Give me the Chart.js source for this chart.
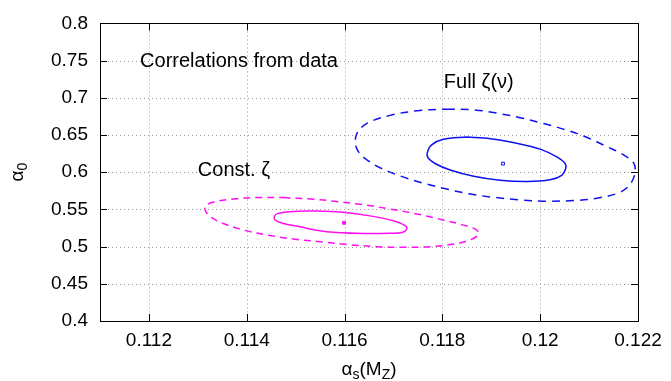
<!DOCTYPE html>
<html>
<head>
<meta charset="utf-8">
<script src="https://cdn.jsdelivr.net/npm/chart.js@4.4.1/dist/chart.umd.min.js"></script>
<style>
  body { margin: 0; background: #fff; }
  #wrap { width: 671px; height: 381px; }
</style>
</head>
<body>
<div id="wrap"><canvas id="chart"></canvas></div>
<script>
// axis ticks
const xTicks = [0.112, 0.114, 0.116, 0.118, 0.120, 0.122];
const yTicks = [0.40, 0.45, 0.50, 0.55, 0.60, 0.65, 0.70, 0.75, 0.80];

// contours, [alpha_s, alpha_0]; each starts on a flat stretch
const fullInner = [
  [0.11850, 0.6473], [0.11898, 0.6451], [0.11952, 0.6389], [0.12000, 0.6310],
  [0.12034, 0.6205], [0.12051, 0.6117], [0.12052, 0.6046], [0.12044, 0.5958],
  [0.12020, 0.5897], [0.11973, 0.5875], [0.11918, 0.5892], [0.11864, 0.5945],
  [0.11816, 0.6029], [0.11785, 0.6117], [0.11771, 0.6191], [0.11769, 0.6257],
  [0.11778, 0.6367], [0.11802, 0.6442]
];
const fullOuter = [
  [0.11809, 0.6847], [0.11864, 0.6838], [0.11911, 0.6794], [0.11959, 0.6733],
  [0.12007, 0.6654], [0.12054, 0.6566], [0.12095, 0.6469], [0.12136, 0.6345],
  [0.12170, 0.6235], [0.12191, 0.6125], [0.12194, 0.5993], [0.12184, 0.5839],
  [0.12163, 0.5729], [0.12116, 0.5650], [0.12068, 0.5619], [0.12013, 0.5611],
  [0.11959, 0.5628], [0.11904, 0.5663], [0.11857, 0.5707], [0.11809, 0.5773],
  [0.11761, 0.5853], [0.11714, 0.5949], [0.11673, 0.6059], [0.11645, 0.6169],
  [0.11628, 0.6279], [0.11622, 0.6398], [0.11626, 0.6530], [0.11645, 0.6654],
  [0.11693, 0.6764], [0.11754, 0.6830]
];
const constInner = [
  [0.11543, 0.5479], [0.11598, 0.5461], [0.11652, 0.5413], [0.11700, 0.5347],
  [0.11724, 0.5281], [0.11727, 0.5237], [0.11719, 0.5193], [0.11693, 0.5179],
  [0.11639, 0.5175], [0.11584, 0.5188], [0.11543, 0.5219], [0.11509, 0.5267],
  [0.11475, 0.5311], [0.11459, 0.5351], [0.11456, 0.5399], [0.11463, 0.5443],
  [0.11489, 0.5470]
];
const constOuter = [
  [0.11475, 0.5659], [0.11530, 0.5641], [0.11584, 0.5606], [0.11639, 0.5562],
  [0.11693, 0.5505], [0.11748, 0.5439], [0.11795, 0.5369], [0.11843, 0.5289],
  [0.11869, 0.5228], [0.11874, 0.5166], [0.11857, 0.5091], [0.11823, 0.5034],
  [0.11775, 0.4999], [0.11720, 0.4990], [0.11666, 0.4999], [0.11611, 0.5025],
  [0.11557, 0.5061], [0.11502, 0.5096], [0.11448, 0.5149], [0.11393, 0.5223],
  [0.11352, 0.5311], [0.11326, 0.5399], [0.11316, 0.5474], [0.11315, 0.5540],
  [0.11330, 0.5597], [0.11373, 0.5641], [0.11420, 0.5659]
];
const fullCenter = [0.11924, 0.6115];
const constCenter = [0.11599, 0.5320];

// text notes
const noteTexts = ['Correlations from data', 'Full ζ(ν)', 'Const. ζ'];
const noteX = [0.11182, 0.11803, 0.11300];
const noteY = [0.7485, 0.7208, 0.6020];

const FONT = '"Liberation Sans", Arial, Helvetica, sans-serif';
const BLUE = '#1010f0';
const MAGENTA = '#ff10ee';

const toPts = arr => {
  const pts = arr.map(p => ({ x: p[0], y: p[1] }));
  pts.push({ x: arr[0][0], y: arr[0][1] }); // close the loop
  return pts;
};

const framePlugin = {
  id: 'frame',
  beforeDatasetsDraw(chart) {
    const { ctx, chartArea: a, scales: { x, y } } = chart;
    ctx.save();
    ctx.strokeStyle = '#9a9a9a';
    ctx.lineWidth = 1;
    ctx.setLineDash([1, 3]);
    xTicks.forEach(v => {
      const px = Math.round(x.getPixelForValue(v)) + 0.5;
      ctx.beginPath(); ctx.moveTo(px, a.top); ctx.lineTo(px, a.bottom); ctx.stroke();
    });
    yTicks.forEach(v => {
      const py = Math.round(y.getPixelForValue(v)) + 0.5;
      ctx.beginPath(); ctx.moveTo(a.left, py); ctx.lineTo(a.right, py); ctx.stroke();
    });
    ctx.restore();
  },
  afterDatasetsDraw(chart) {
    const { ctx, chartArea: a, scales: { x, y } } = chart;
    const t = 7;
    ctx.save();
    ctx.strokeStyle = '#000';
    ctx.lineWidth = 1;
    ctx.beginPath();
    xTicks.forEach(v => {
      const px = Math.round(x.getPixelForValue(v)) + 0.5;
      ctx.moveTo(px, a.bottom); ctx.lineTo(px, a.bottom - t);
      ctx.moveTo(px, a.top); ctx.lineTo(px, a.top + t);
    });
    yTicks.forEach(v => {
      const py = Math.round(y.getPixelForValue(v)) + 0.5;
      ctx.moveTo(a.left, py); ctx.lineTo(a.left + t, py);
      ctx.moveTo(a.right, py); ctx.lineTo(a.right - t, py);
    });
    ctx.stroke();
    ctx.strokeRect(Math.round(a.left) + 0.5, Math.round(a.top) + 0.5,
      Math.round(a.right - a.left), Math.round(a.bottom - a.top));

    // notes
    ctx.fillStyle = '#000';
    ctx.font = '20px ' + FONT;
    ctx.textBaseline = 'middle';
    ctx.textAlign = 'left';
    noteTexts.forEach((s, i) => {
      ctx.fillText(s, x.getPixelForValue(noteX[i]), y.getPixelForValue(noteY[i]));
    });
    ctx.restore();
  },
  afterDraw(chart) {
    const { ctx, chartArea: a } = chart;
    const big = '19px ' + FONT, small = '14px ' + FONT;
    const drawParts = (parts, cx, cy) => {
      let w = 0;
      parts.forEach(p => { ctx.font = p[1] ? small : big; w += ctx.measureText(p[0]).width; });
      let xx = cx - w / 2;
      parts.forEach(p => {
        ctx.font = p[1] ? small : big;
        ctx.fillText(p[0], xx, cy + (p[1] ? 5 : 0));
        xx += ctx.measureText(p[0]).width;
      });
    };
    ctx.save();
    ctx.fillStyle = '#000';
    ctx.textBaseline = 'middle';
    ctx.textAlign = 'left';
    drawParts([['α', 0], ['s', 1], ['(M', 0], ['Z', 1], [')', 0]], (a.left + a.right) / 2, 370);
    ctx.translate(18, (a.top + a.bottom) / 2);
    ctx.rotate(-Math.PI / 2);
    drawParts([['α', 0], ['0', 1]], 0, 0);
    ctx.restore();
  }
};

new Chart(document.getElementById('chart'), {
  type: 'scatter',
  data: {
    datasets: [
      { data: toPts(fullInner), showLine: true, borderColor: BLUE, borderWidth: 1.5, pointRadius: 0, tension: 0.35 },
      { data: toPts(fullOuter), showLine: true, borderColor: BLUE, borderWidth: 1.5, borderDash: [8, 6], pointRadius: 0, tension: 0.35 },
      { data: toPts(constInner), showLine: true, borderColor: MAGENTA, borderWidth: 1.5, pointRadius: 0, tension: 0.35 },
      { data: toPts(constOuter), showLine: true, borderColor: MAGENTA, borderWidth: 1.5, borderDash: [7, 5], pointRadius: 0, tension: 0.35 },
      { data: [{ x: fullCenter[0], y: fullCenter[1] }], pointStyle: 'rect', pointRadius: 2, borderColor: BLUE, backgroundColor: '#fff', borderWidth: 1 },
      { data: [{ x: constCenter[0], y: constCenter[1] }], pointStyle: 'rect', pointRadius: 2, borderColor: MAGENTA, backgroundColor: MAGENTA, borderWidth: 1 }
    ]
  },
  options: {
    responsive: true,
    maintainAspectRatio: false,
    animation: false,
    layout: { padding: { top: 18, right: 33, left: 0, bottom: 0 } },
    plugins: { legend: { display: false }, tooltip: { enabled: false } },
    scales: {
      x: {
        type: 'linear', min: 0.111, max: 0.122,
        afterBuildTicks: s => { s.ticks = xTicks.map(v => ({ value: v })); },
        afterFit: s => { s.height = 60; },
        grid: { display: false, drawTicks: false },
        border: { display: false },
        ticks: { color: '#000', font: { family: FONT, size: 19 }, padding: 8, maxRotation: 0,
          callback: v => String(+v.toFixed(3)) }
      },
      y: {
        type: 'linear', min: 0.4, max: 0.8,
        afterBuildTicks: s => { s.ticks = yTicks.map(v => ({ value: v })); },
        afterFit: s => { s.width = 100; },
        grid: { display: false, drawTicks: false },
        border: { display: false },
        ticks: { color: '#000', font: { family: FONT, size: 19 }, padding: 12,
          callback: v => String(+v.toFixed(2)) }
      }
    }
  },
  plugins: [framePlugin]
});
</script>
</body>
</html>
